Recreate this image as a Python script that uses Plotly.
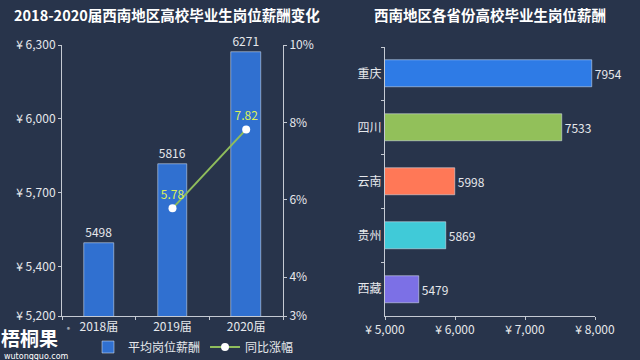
import plotly.graph_objects as go

years = ["2018届", "2019届", "2020届"]
avg_salary = [5498, 5816, 6271]
growth_years = ["2019届", "2020届"]
growth = [5.78, 7.82]

provinces = ["重庆", "四川", "云南", "贵州", "西藏"]
prov_salary = [7954, 7533, 5998, 5869, 5479]
prov_colors = ["#2e7be6", "#92c05a", "#ff7857", "#40cad8", "#7c70e6"]

left_ticks = [5200, 5400, 5700, 6000, 6300]
left_ticktext = ["¥ 5,200", "¥ 5,400", "¥ 5,700", "¥ 6,000", "¥ 6,300"]
pct_ticks = [3, 4, 6, 8, 10]
pct_ticktext = ["3%", "4%", "6%", "8%", "10%"]
right_ticks = [5000, 6000, 7000, 8000]
right_ticktext = ["¥ 5,000", "¥ 6,000", "¥ 7,000", "¥ 8,000"]

BG = "#28344b"
AX = "#c5cad3"
TXT = "#e6e8ec"
FONT = "Noto Sans CJK SC"

fig = go.Figure()
fig.add_trace(go.Bar(
    x=years, y=avg_salary, name="平均岗位薪酬", width=0.4,
    marker=dict(color="#3070d0"), text=[str(v) for v in avg_salary],
    textposition="outside", textfont=dict(color=TXT, size=12),
    cliponaxis=False, xaxis="x", yaxis="y",
))
fig.add_trace(go.Scatter(
    x=growth_years, y=growth, name="同比涨幅", mode="lines+markers+text",
    line=dict(color="#8fbd5c", width=2),
    marker=dict(color="white", size=8),
    text=[f"{v:.2f}" for v in growth], textposition="top center",
    textfont=dict(color="#dcf05a", size=12),
    cliponaxis=False, xaxis="x", yaxis="y2",
))
fig.add_trace(go.Bar(
    y=provinces, x=prov_salary, orientation="h", width=0.5, showlegend=False,
    marker=dict(color=prov_colors), text=[str(v) for v in prov_salary],
    textposition="outside", textfont=dict(color=TXT, size=12),
    cliponaxis=False, xaxis="x3", yaxis="y3",
))

axis_common = dict(showline=True, linecolor=AX, linewidth=1, showgrid=False,
                   zeroline=False, ticks="outside", ticklen=3, tickcolor=AX,
                   automargin=False, tickfont=dict(color=TXT, size=12))

fig.update_layout(
    width=640, height=360, paper_bgcolor=BG, plot_bgcolor=BG,
    font=dict(family=FONT, color=TXT),
    margin=dict(l=0, r=0, t=0, b=0, autoexpand=False),
    bargap=0,
    xaxis=dict(domain=[62/640, 283/640], anchor="y", type="category",
               tickson="boundaries", **axis_common),
    yaxis=dict(domain=[1-316/360, 1-45/360], anchor="x", range=[5200, 6300],
               tickvals=left_ticks, ticktext=left_ticktext, **axis_common),
    yaxis2=dict(overlaying="y", side="right", anchor="x", range=[3, 10],
                tickvals=pct_ticks, ticktext=pct_ticktext, **axis_common),
    xaxis3=dict(domain=[385/640, 595/640], anchor="y3", range=[5000, 8000],
                tickvals=right_ticks, ticktext=right_ticktext, **axis_common),
    yaxis3=dict(domain=[1-316/360, 1-47/360], anchor="x3", type="category",
                autorange="reversed", tickson="boundaries", **axis_common),
    legend=dict(orientation="h", x=88/640, y=1-347/360, yanchor="middle",
                xanchor="left", font=dict(color=TXT, size=12),
                bgcolor="rgba(0,0,0,0)", itemwidth=30),
    annotations=[
        dict(text="<b>2018-2020届西南地区高校毕业生岗位薪酬变化</b>", x=12/640, y=1-15/360,
             xref="paper", yref="paper", xanchor="left", yanchor="middle",
             showarrow=False, font=dict(size=14.5, color="white")),
        dict(text="<b>西南地区各省份高校毕业生岗位薪酬</b>", x=490/640, y=1-15/360,
             xref="paper", yref="paper", xanchor="center", yanchor="middle",
             showarrow=False, font=dict(size=14.5, color="white")),
        dict(text="<b>梧桐果</b>", x=0, y=1-337/360, xref="paper", yref="paper",
             xanchor="left", yanchor="middle", showarrow=False, borderpad=0,
             font=dict(size=19, color="white")),
        dict(text="wutongguo.com", x=3/640, y=1-356/360, xref="paper", yref="paper",
             xanchor="left", yanchor="middle", showarrow=False, borderpad=0,
             font=dict(size=8, color="white", family="DejaVu Sans")),
        dict(text="®", x=66/640, y=1-329/360, xref="paper", yref="paper",
             xanchor="left", yanchor="middle", showarrow=False, borderpad=0,
             font=dict(size=6, color="white")),
    ],
)

fig.write_html("out.html", config={"displayModeBar": False},
               post_script="document.body.style.margin='0';document.body.style.overflow='hidden';")
